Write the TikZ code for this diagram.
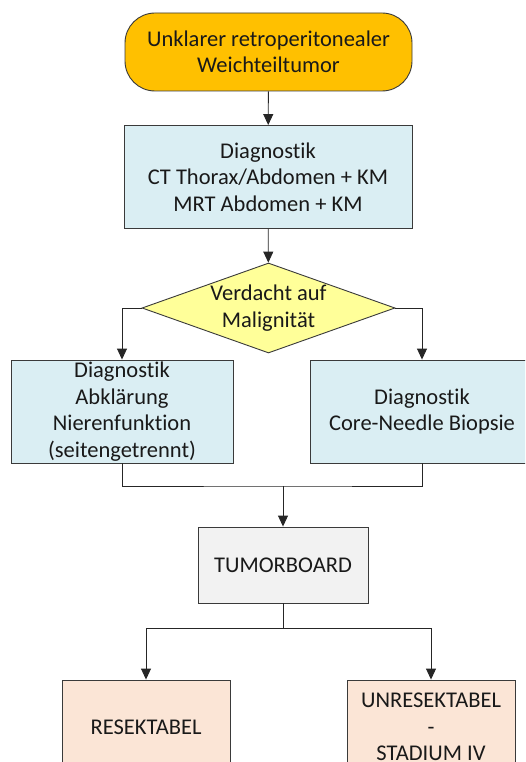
\documentclass[tikz,border=0pt]{standalone}
\usepackage{fontspec}
\setmainfont{Carlito}[Ligatures=NoCommon]
\usetikzlibrary{shapes.geometric,arrows.meta}
\definecolor{cstart}{HTML}{FFC000}
\definecolor{cdiag}{HTML}{DAEEF3}
\definecolor{cdec}{HTML}{FFFF99}
\definecolor{cboard}{HTML}{F2F2F2}
\definecolor{cres}{HTML}{FBE5D6}
\definecolor{cline}{HTML}{3A3A3A}
\tikzset{
  base/.style={draw=cline, line width=0.9pt, align=center, inner sep=0pt,
    font=\fontsize{22.5}{26.5}\selectfont, text=black!90},
  startbox/.style={base, fill=cstart, rounded corners=30pt, minimum width=287pt, minimum height=78pt},
  diagbox/.style={base, fill=cdiag, minimum width=#1, minimum height=103pt},
  decision/.style={base, shape=diamond, fill=cdec, minimum width=253pt, minimum height=90pt},
  boardbox/.style={base, fill=cboard, minimum width=170pt, minimum height=76pt},
  resbox/.style={base, fill=cres, minimum width=168pt, minimum height=94pt},
  txt/.style={align=center, inner sep=0pt, font=\fontsize{22.5}{26.5}\selectfont, text=black!90},
  conn/.style={draw=black!85, line width=0.9pt},
  arr/.style={conn, -{Triangle[length=11pt,width=10pt]}},
}
\begin{document}
\begin{tikzpicture}[x=1pt,y=-1pt]
\useasboundingbox (0,0) rectangle (525,762);
\clip (0,0) rectangle (525,762);
\node[startbox] (start) at (268.5,52) {Unklarer retroperitonealer\\Weichteiltumor};
\node[diagbox=288pt] (diag) at (268,177) {Diagnostik\\CT Thorax/Abdomen + KM\\MRT Abdomen + KM};
\node[decision] (dec) at (268.5,308) {};
\node[txt] (dectext) at (dec.center) {Verdacht auf\\Malignität};
\node[diagbox=222pt] (left) at (122,411.5) {Diagnostik\\Abklärung\\Nierenfunktion\\(seitengetrennt)};
\node[diagbox=224pt] (right) at (422,411.5) {Diagnostik\\Core-Needle Biopsie};
\node[boardbox] (board) at (283,565) {TUMORBOARD};
\node[resbox] (res) at (146,727) {RESEKTABEL};
\node[resbox] (unres) at (431,727) {UNRESEKTABEL\\-\\STADIUM IV};
\coordinate (join) at (283,486);
\coordinate (split) at (283,628);
\draw[arr] (start) -- (diag);
\draw[arr] (diag) -- (dec);
\draw[arr] (dec.west) -| (left.north);
\draw[arr] (dec.east) -| (right.north);
\draw[conn] (left.south) |- (join) -| (right.south);
\draw[arr] (join) -- (board);
\draw[conn] (board.south) -- (split);
\draw[arr] (split) -| (res.north);
\draw[arr] (split) -| (unres.north);
\end{tikzpicture}
\end{document}
